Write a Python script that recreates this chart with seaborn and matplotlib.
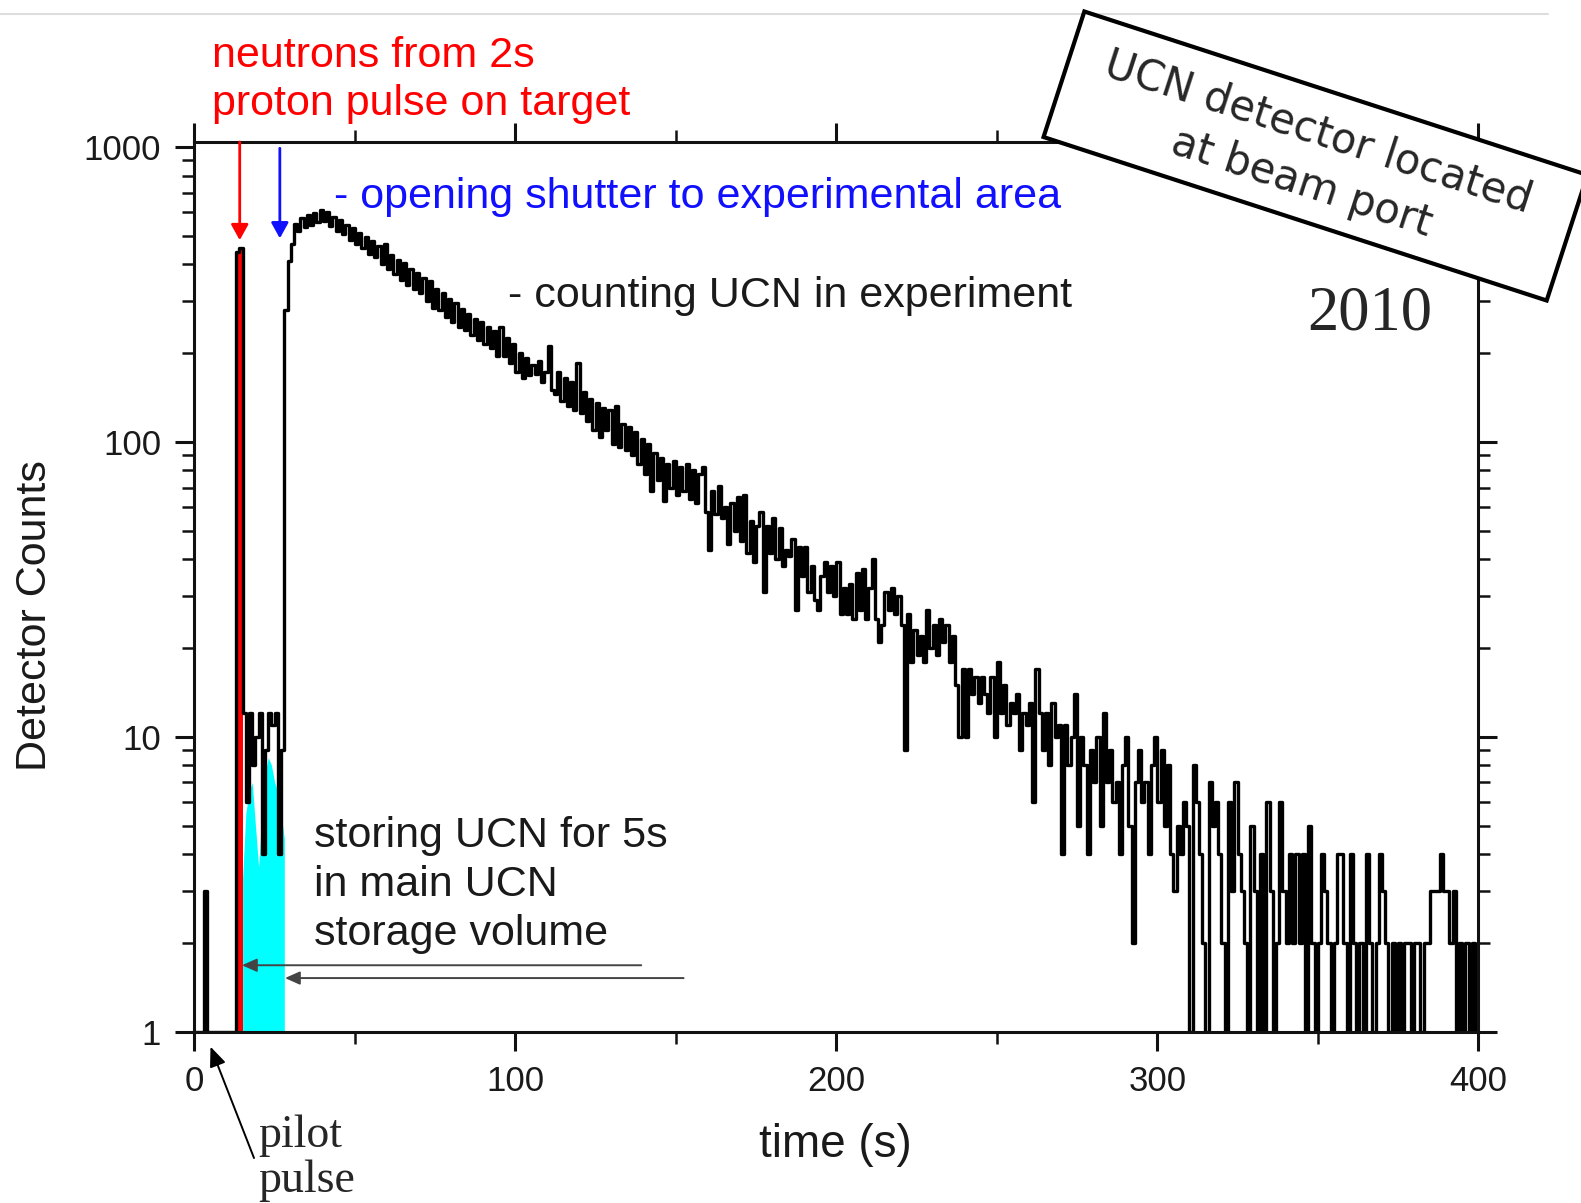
import numpy as np
import matplotlib
matplotlib.use('Agg')
import matplotlib.pyplot as plt
import matplotlib.ticker as mticker
from matplotlib.patches import Rectangle
from matplotlib.lines import Line2D
import seaborn as sns

sns.set_style('ticks')
plt.rcParams['font.family'] = ['Liberation Sans', 'DejaVu Sans']

# detector counts per 1 s bin (empty bins sit on the axis at 1)
time_s = np.arange(0, 401)
counts = [
    1, 1, 1, 3, 1, 1, 1, 1, 1, 1,                      # 0 - pilot pulse
    1, 1, 1, 440, 455, 12, 6, 12, 8, 10,               # 10 - proton pulse, storage
    12, 4, 9, 12, 11, 12, 4, 9, 280, 410,              # 20 - shutter opens
    470, 550, 520, 575, 535, 590, 545, 595, 555, 610,
    560, 600, 540, 580, 520, 565, 505, 545, 485, 530,
    470, 510, 455, 495, 435, 480, 425, 460, 400, 470,
    385, 430, 370, 415, 355, 405, 340, 385, 330, 375,
    320, 360, 300, 350, 285, 330, 280, 320, 265, 305,
    255, 295, 245, 282, 240, 272, 230, 262, 222, 255,
    215, 246, 208, 238, 196, 245, 195, 225, 185, 215,
    172, 200, 165, 192, 168, 182, 170, 188, 160, 172,  # 100
    212, 150, 145, 172, 138, 165, 132, 160, 128, 185,
    125, 148, 118, 140, 110, 135, 104, 130, 110, 128,
    98, 132, 96, 115, 94, 112, 90, 108, 84, 102,
    78, 98, 68, 92, 74, 88, 63, 84, 70, 86,
    66, 82, 68, 84, 64, 80, 62, 78, 82, 58,
    43, 68, 57, 71, 55, 60, 45, 62, 50, 65,
    46, 66, 42, 54, 39, 52, 58, 31, 52, 42,
    55, 40, 51, 38, 43, 41, 47, 27, 44, 35,
    44, 31, 38, 29, 27, 35, 39, 31, 38, 30,
    39, 26, 32, 26, 33, 25, 36, 27, 37, 25,            # 200
    32, 40, 25, 21, 24, 31, 27, 32, 26, 30,
    24, 9, 26, 18, 23, 19, 22, 18, 27, 20,
    24, 19, 25, 21, 24, 18, 22, 15, 10, 17,
    10, 17, 14, 16, 13, 16, 14, 12, 16, 10,
    18, 12, 15, 11, 13, 12, 14, 9, 12, 11,
    13, 6, 17, 12, 9, 12, 8, 13, 10, 11,
    4, 11, 8, 10, 14, 5, 10, 8, 4, 9,
    7, 10, 5, 12, 7, 9, 6, 7, 4, 8,
    10, 5, 2, 7, 9, 6, 7, 4, 8, 10,
    6, 9, 5, 8, 4, 3, 5, 4, 6, 5,                      # 300
    1, 8, 6, 4, 2, 1, 7, 5, 6, 4,
    2, 1, 6, 3, 7, 4, 3, 2, 1, 5,
    3, 1, 4, 1, 6, 3, 1, 2, 6, 3,
    2, 4, 2, 4, 2, 4, 1, 5, 2, 1,
    2, 4, 3, 2, 1, 2, 4, 4, 2, 1,
    4, 2, 1, 2, 1, 4, 2, 1, 2, 4,
    3, 2, 1, 2, 1, 2, 1, 2, 2, 1,
    2, 2, 1, 2, 2, 3, 3, 3, 4, 3,
    3, 2, 3, 1, 2, 1, 2, 1, 2, 1,
    2,                                                 # 400
]

# cyan shading of the UCN held in the storage volume
store_time = np.arange(15, 29)
store_counts = [3.3, 5.5, 6.5, 7, 5, 3.6, 5.5, 7.5, 8.5, 8, 7, 6.5, 5.5, 4.5]

pulse_bins = (13, 15)
x_ticks = [0, 100, 200, 300, 400]
y_ticks = [1, 10, 100, 1000]

red_lines = ['neutrons from 2s', 'proton pulse on target']
blue_text = '- opening shutter to experimental area'
count_text = '- counting UCN in experiment'
store_lines = ['storing UCN for 5s', 'in main UCN', 'storage volume']
pilot_lines = ['pilot', 'pulse']
box_text = 'UCN detector located\nat beam port'

W, H = 1581, 1203


def fpx(x, y):
    # reference pixel (from top-left) -> figure fraction
    return x / W, 1 - y / H


fig = plt.figure(figsize=(W / 100, H / 100), dpi=100)
ax = fig.add_axes([0.123, 0.1424, 0.812, 0.7396])
ax.set_yscale('log')

t = np.asarray(time_s)
c = np.asarray(counts, dtype=float)
ax.fill_between(store_time, 1, store_counts, color='#00ffff', lw=0, zorder=1)
ax.fill_between(t, 1, c, where=(t >= pulse_bins[0]) & (t <= pulse_bins[1]),
                step='post', color='#ff0000', lw=0, zorder=1)
sns.lineplot(x=t, y=c, drawstyle='steps-post', color='black', lw=2.4,
             estimator=None, ax=ax, zorder=2)

ax.set_xlim(0, 400)
ax.set_ylim(1, 1040)
ax.set_xticks(x_ticks)
ax.xaxis.set_minor_locator(mticker.MultipleLocator(50))
ax.set_yticks(y_ticks)
ax.set_yticklabels([str(v) for v in y_ticks])
ax.yaxis.set_minor_locator(mticker.LogLocator(base=10, subs=np.arange(2, 10)))
ax.yaxis.set_minor_formatter(mticker.NullFormatter())

for s in ax.spines.values():
    s.set_linewidth(2.2)
    s.set_color('#111111')
ax.tick_params(which='major', direction='out', length=14, width=2.2, pad=10,
               labelsize=25, top=True, right=True, color='#111111', labelcolor='#1a1a1a')
ax.tick_params(which='minor', direction='out', length=8.5, width=1.8,
               top=True, right=True, color='#111111')

ax.set_xlabel('time (s)', fontsize=33, color='#1a1a1a')
ax.xaxis.label.set_va('baseline')
ax.xaxis.set_label_coords(0.4994, -0.1405)
ax.set_ylabel('Detector Counts', fontsize=31, color='#1a1a1a')
ax.yaxis.label.set_va('baseline')
ax.yaxis.set_label_coords(-0.1157, 0.468)

# annotations
for i, line in enumerate(red_lines):
    fig.text(*fpx(212, 67 + 48 * i), line, color='#ff0000', fontsize=31, va='baseline')
fig.text(*fpx(334, 208), blue_text, color='#1010ff', fontsize=31, va='baseline')
fig.text(*fpx(508, 307), count_text, color='#1a1a1a', fontsize=31, va='baseline')
for i, line in enumerate(store_lines):
    fig.text(*fpx(314, 847 + 49 * i), line, color='#1a1a1a', fontsize=31, va='baseline')
fig.text(*fpx(1307, 330), '2010', family='Liberation Serif', fontsize=45, va='baseline')
for i, line in enumerate(pilot_lines):
    fig.text(*fpx(258, 1147 + 45 * i), line, family='Liberation Serif', fontsize=33, va='baseline')

ax.annotate('', xy=(14.1, 483), xytext=(14.1, 1040),
            arrowprops=dict(arrowstyle='-|>,head_length=0.47,head_width=0.26', color='#ff0000',
                            lw=2, shrinkA=0, shrinkB=0, mutation_scale=20))
ax.annotate('', xy=(26.6, 490), xytext=(26.6, 990),
            arrowprops=dict(arrowstyle='-|>,head_length=0.47,head_width=0.26', color='#1010ff',
                            lw=2, shrinkA=0, shrinkB=0, mutation_scale=20))
for y, x0, x1 in [(1.68, 139.2, 14.8), (1.52, 152.4, 28.2)]:
    ax.annotate('', xy=(x1, y), xytext=(x0, y),
                arrowprops=dict(arrowstyle='-|>,head_length=0.45,head_width=0.2', color='#444444',
                                lw=1.4, shrinkA=0, shrinkB=0, mutation_scale=20))
ax.annotate('', xy=(210.5, H - 1046.7), xycoords='figure pixels',
            xytext=(254, H - 1158), textcoords='figure pixels', annotation_clip=False,
            arrowprops=dict(arrowstyle='-|>,head_length=0.6,head_width=0.25', color='black',
                            lw=1.4, shrinkA=0, shrinkB=0, mutation_scale=20))

# tilted label box
box = Rectangle((13.155 - 2.645, (H - 156) / 100 - 0.66), 5.29, 1.32, angle=-18,
                rotation_point='center', transform=fig.dpi_scale_trans,
                facecolor='white', edgecolor='black', lw=3, zorder=5)
fig.add_artist(box)
fig.text(13.10, (H - 157.5) / 100, box_text, transform=fig.dpi_scale_trans,
         family='DejaVu Sans', fontsize=30, rotation=-18, rotation_mode='anchor',
         ha='center', va='center', multialignment='center', linespacing=1.35, zorder=6)

fig.add_artist(Line2D([0, 1548 / W], [1 - 14 / H] * 2, transform=fig.transFigure,
                      color='#dddddd', lw=1.5))

fig.savefig('out.png', dpi=100)
